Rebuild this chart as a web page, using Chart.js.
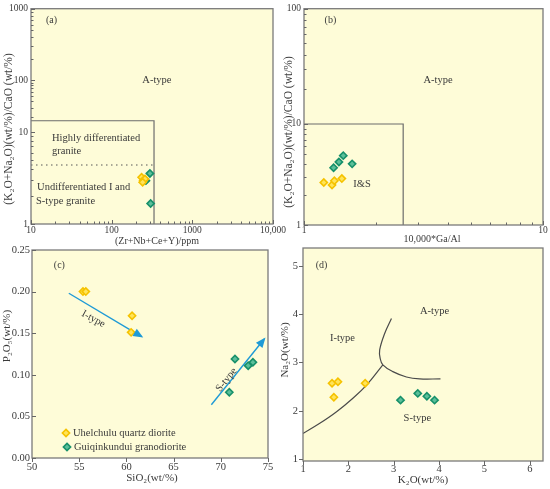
<!DOCTYPE html>
<html lang="en">
<head>
    <meta charset="UTF-8">
    <title>Granite type discrimination diagrams</title>
    <script src="https://cdn.jsdelivr.net/npm/chart.js"></script>
    <style>
        body { margin: 0; background: #fff; }
        .sheet { position: relative; width: 550px; height: 489px; }
        .sheet canvas { position: absolute; left: 0; top: 0; }
    </style>
</head>
<body>
    <div class="sheet">
        <canvas id="panelA" width="550" height="489"></canvas>
        <canvas id="panelB" width="550" height="489"></canvas>
        <canvas id="panelC" width="550" height="489"></canvas>
        <canvas id="panelD" width="550" height="489"></canvas>
    </div>

    <script>
        // (a) Zr+Nb+Ce+Y vs (K2O+Na2O)/CaO
        const aUhelX = [235, 246, 259, 242];
        const aUhelY = [3.23, 2.97, 3.10, 2.85];
        const aGuiqX = [298, 266, 304, 255];
        const aGuiqY = [3.56, 2.97, 1.67, 3.05];
        const aFieldX = [10, 335, 335];
        const aFieldY = [16.7, 16.7, 1];
        const aSplitX = [10, 335];
        const aSplitY = [4.4, 4.4];
        const aXTicks = [10, 100, 1000, 10000];
        const aXLabels = ['10', '100', '1000', '10,000'];
        const aYTicks = [1, 10, 100, 1000];

        // (b) 10000*Ga/Al vs (K2O+Na2O)/CaO
        const bUhelX = [1.21, 1.31, 1.34, 1.44];
        const bUhelY = [2.63, 2.49, 2.74, 2.88];
        const bGuiqX = [1.33, 1.40, 1.46, 1.59];
        const bGuiqY = [3.69, 4.21, 4.86, 4.03];
        const bFieldX = [1, 2.6, 2.6];
        const bFieldY = [10, 10, 1];
        const bXTicks = [1, 10];
        const bYTicks = [1, 10, 100];

        // (c) SiO2 vs P2O5
        const cUhelX = [55.4, 55.7, 60.6, 60.5];
        const cUhelY = [0.20, 0.20, 0.171, 0.151];
        const cGuiqX = [71.5, 72.9, 73.4, 70.9];
        const cGuiqY = [0.119, 0.111, 0.115, 0.079];
        const cITrendX = [53.9, 61.6];
        const cITrendY = [0.198, 0.146];
        const cSTrendX = [69.0, 74.6];
        const cSTrendY = [0.064, 0.143];
        const cXTicks = [50, 55, 60, 65, 70, 75];
        const cYTicks = [0, 0.05, 0.10, 0.15, 0.20, 0.25];

        // (d) K2O vs Na2O
        const dUhelX = [1.64, 1.77, 1.68, 2.37];
        const dUhelY = [2.57, 2.60, 2.28, 2.57];
        const dGuiqX = [3.15, 3.53, 3.73, 3.90];
        const dGuiqY = [2.22, 2.36, 2.30, 2.22];
        const dISLineX = [1.0, 1.37, 1.74, 2.10, 2.40, 2.76];
        const dISLineY = [1.53, 1.74, 1.98, 2.26, 2.53, 2.95];
        const dALineX = [2.95, 2.80, 2.69, 2.70, 2.76, 2.98, 3.28, 3.57, 4.03];
        const dALineY = [3.91, 3.60, 3.26, 3.09, 2.95, 2.81, 2.70, 2.66, 2.66];
        const dXTicks = [1, 2, 3, 4, 5, 6];
        const dYTicks = [1, 2, 3, 4, 5];

        const FONT = '"Liberation Serif", "DejaVu Serif", serif';
        const INK = '#3a3a3a';
        const PLOT_BG = '#FEFCD8';
        const FRAME = '#7a7a7a';
        const UHEL = { fill: '#FFE45A', edge: '#F5C200' };
        const GUIQ = { fill: '#5CBF9A', edge: '#17906A' };
        const PAGE_W = 550, PAGE_H = 489;

        // the log axes of (a) and (b) are not evenly spaced per decade in the original
        const BENDS = {
            aY: [[0, 0], [1, 0.426], [2, 0.667], [3, 1]],
            bY: [[0, 0], [1, 0.467], [2, 1]]
        };
        const LogScale = Chart.registry.getScale('logarithmic');
        class BentLogScale extends LogScale {
            getPixelForValue(value) {
                const pts = BENDS[this.options.bend];
                if (!pts || !(value > 0)) return super.getPixelForValue(value);
                const lv = Math.log10(value);
                let i = 0;
                while (i < pts.length - 2 && lv > pts[i + 1][0]) i++;
                const [l0, f0] = pts[i], [l1, f1] = pts[i + 1];
                return this.getPixelForDecimal(f0 + (lv - l0) / (l1 - l0) * (f1 - f0));
            }
            getValueForPixel(pixel) {
                const pts = BENDS[this.options.bend];
                if (!pts) return super.getValueForPixel(pixel);
                const f = this.getDecimalForPixel(pixel);
                let i = 0;
                while (i < pts.length - 2 && f > pts[i + 1][1]) i++;
                const [l0, f0] = pts[i], [l1, f1] = pts[i + 1];
                return Math.pow(10, l0 + (f - f0) / (f1 - f0) * (l1 - l0));
            }
        }
        BentLogScale.id = 'bentlog';
        BentLogScale.defaults = LogScale.defaults;
        Chart.register(BentLogScale);

        function pts(xs, ys) {
            return xs.map((x, i) => ({ x, y: ys[i] }));
        }

        function marks(label, xs, ys, c, order) {
            return {
                label, data: pts(xs, ys), order,
                pointStyle: 'rectRot', pointRadius: 3.6, pointBorderWidth: 1.6,
                backgroundColor: c.fill, borderColor: c.edge
            };
        }

        function curve(xs, ys, color, width, extra) {
            return Object.assign({
                data: pts(xs, ys), showLine: true, pointRadius: 0, order: 5,
                borderColor: color, borderWidth: width, fill: false
            }, extra);
        }

        function tickValues(type, min, max, majors) {
            if (type === 'linear') return majors.slice();
            const out = majors.slice();
            for (let d = Math.floor(Math.log10(min)); d < Math.log10(max); d++) {
                for (let k = 2; k <= 9; k++) {
                    const v = k * Math.pow(10, d);
                    if (v > min && v < max) out.push(v);
                }
            }
            return out.sort((p, q) => p - q);
        }

        function axis(type, min, max, majors, labels, size, pad, extra) {
            return Object.assign({
                type, min, max,
                grid: { display: false, drawTicks: false },
                border: { display: false },
                afterBuildTicks: s => { s.ticks = tickValues(type, min, max, majors).map(value => ({ value })); },
                ticks: {
                    autoSkip: false, maxRotation: 0, minRotation: 0, padding: pad, color: INK,
                    font: { family: FONT, size },
                    callback: v => {
                        const k = majors.findIndex(m => Math.abs(m - v) < 1e-9 * Math.max(1, Math.abs(v)));
                        return k < 0 ? '' : labels[k];
                    }
                }
            }, extra);
        }

        function diamond(ctx, x, y, r, c) {
            ctx.beginPath();
            ctx.moveTo(x, y - r); ctx.lineTo(x + r, y); ctx.lineTo(x, y + r); ctx.lineTo(x - r, y);
            ctx.closePath();
            ctx.fillStyle = c.fill; ctx.fill();
            ctx.lineWidth = 1.6; ctx.strokeStyle = c.edge; ctx.stroke();
        }

        function text(ctx, t, x, y, size, rot, align) {
            ctx.save();
            ctx.translate(x, y);
            if (rot) ctx.rotate(rot * Math.PI / 180);
            ctx.font = size + 'px ' + FONT;
            ctx.fillStyle = INK;
            ctx.textAlign = align || 'center';
            ctx.textBaseline = 'middle';
            ctx.fillText(t, 0, 0);
            ctx.restore();
        }

        function decor(cfg) {
            return {
                id: 'decor',
                beforeDraw(chart) {
                    const a = chart.chartArea, ctx = chart.ctx;
                    ctx.save();
                    ctx.fillStyle = PLOT_BG;
                    ctx.fillRect(a.left, a.top, a.right - a.left, a.bottom - a.top);
                    ctx.restore();
                },
                afterDatasetsDraw(chart) {
                    const ctx = chart.ctx, xs = chart.scales.x, ys = chart.scales.y;
                    chart.data.datasets.forEach((ds, i) => {
                        if (!ds.arrow) return;
                        const el = chart.getDatasetMeta(i).data;
                        const p1 = el[el.length - 1], p0 = el[el.length - 2];
                        ctx.save();
                        ctx.translate(p1.x, p1.y);
                        ctx.rotate(Math.atan2(p1.y - p0.y, p1.x - p0.x));
                        ctx.beginPath();
                        ctx.moveTo(2, 0); ctx.lineTo(-8, -4.2); ctx.lineTo(-8, 4.2);
                        ctx.closePath();
                        ctx.fillStyle = ds.borderColor;
                        ctx.fill();
                        ctx.restore();
                    });
                    (cfg.notes || []).forEach(n => {
                        text(ctx, n.text, xs.getPixelForValue(n.x), ys.getPixelForValue(n.y), n.size || 10.5, n.rot, n.align);
                    });
                },
                afterDraw(chart) {
                    const ctx = chart.ctx, a = chart.chartArea;
                    ctx.save();
                    ctx.strokeStyle = FRAME;
                    ctx.lineWidth = 1.3;
                    ctx.strokeRect(a.left, a.top, a.right - a.left, a.bottom - a.top);
                    ctx.lineWidth = 1;
                    ctx.strokeStyle = '#666';
                    ctx.beginPath();
                    chart.scales.x.ticks.forEach(t => {
                        const len = t.label !== '' ? 4 : 2.5;
                        const px = Math.round(chart.scales.x.getPixelForValue(t.value)) + 0.5;
                        const dir = cfg.tickX === 'in' ? -1 : 1;
                        ctx.moveTo(px, a.bottom); ctx.lineTo(px, a.bottom + dir * len);
                    });
                    chart.scales.y.ticks.forEach(t => {
                        const len = t.label !== '' ? 4 : 2.5;
                        const py = Math.round(chart.scales.y.getPixelForValue(t.value)) + 0.5;
                        const dir = cfg.tickY === 'in' ? 1 : -1;
                        ctx.moveTo(a.left, py); ctx.lineTo(a.left + dir * len, py);
                    });
                    ctx.stroke();
                    ctx.restore();
                    (cfg.titles || []).forEach(t => text(ctx, t.text, t.x, t.y, t.size, t.rot));
                    (cfg.legend || []).forEach(l => {
                        diamond(ctx, l.x, l.y, 3.6, l.style);
                        text(ctx, l.text, l.x + 7, l.y, 10.5, 0, 'left');
                    });
                }
            };
        }

        function panel(canvasId, area, xAxis, yAxis, datasets, cfg) {
            const [L, T, R, B] = area;
            xAxis.afterFit = s => { s.height = PAGE_H - B; };
            yAxis.afterFit = s => { s.width = L; };
            return new Chart(document.getElementById(canvasId), {
                type: 'scatter',
                data: { datasets },
                options: {
                    responsive: false,
                    animation: false,
                    layout: { padding: { left: 0, top: T, right: PAGE_W - R, bottom: 0 } },
                    plugins: { legend: { display: false }, tooltip: { enabled: false } },
                    scales: { x: xAxis, y: yAxis }
                },
                plugins: [decor(cfg)]
            });
        }

        const YTITLE = '(K\u2082O+Na\u2082O)(wt/%)/CaO (wt/%)';

        panel('panelA', [31, 5, 273, 224],
            axis('logarithmic', 10, 10000, aXTicks, aXLabels, 9.5, 1),
            axis('bentlog', 1, 1000, aYTicks, aYTicks.map(String), 9.5, 3, { bend: 'aY' }),
            [
                marks('Uhelchulu quartz diorite', aUhelX, aUhelY, UHEL, 0),
                marks('Guiqinkundui granodiorite', aGuiqX, aGuiqY, GUIQ, 1),
                curve(aFieldX, aFieldY, '#6b6b6b', 1.2),
                curve(aSplitX, aSplitY, '#555', 1.2, { borderDash: [1.5, 3.5] })
            ],
            {
                tickX: 'in', tickY: 'in',
                notes: [
                    { text: '(a)', x: 18, y: 690, size: 10 },
                    { text: 'A-type', x: 364, y: 100 },
                    { text: 'Highly differentiated', x: 18.2, y: 8.6, align: 'left' },
                    { text: 'granite', x: 18.2, y: 6.2, align: 'left' },
                    { text: 'Undifferentiated I and', x: 11.9, y: 2.5, align: 'left' },
                    { text: 'S-type granite', x: 11.5, y: 1.77, align: 'left' }
                ],
                titles: [
                    { text: '(Zr+Nb+Ce+Y)/ppm', x: 157, y: 241, size: 10 },
                    { text: YTITLE, x: 9, y: 129, size: 11.5, rot: -90 }
                ]
            });

        panel('panelB', [304, 5, 543, 225],
            axis('logarithmic', 1, 10, bXTicks, bXTicks.map(String), 9.5, 0),
            axis('bentlog', 1, 100, bYTicks, bYTicks.map(String), 9.5, 3, { bend: 'bY' }),
            [
                marks('Uhelchulu quartz diorite', bUhelX, bUhelY, UHEL, 0),
                marks('Guiqinkundui granodiorite', bGuiqX, bGuiqY, GUIQ, 1),
                curve(bFieldX, bFieldY, '#6b6b6b', 1.2)
            ],
            {
                tickX: 'in', tickY: 'in',
                notes: [
                    { text: '(b)', x: 1.29, y: 79, size: 10 },
                    { text: 'A-type', x: 3.64, y: 24 },
                    { text: 'I&S', x: 1.75, y: 2.55 }
                ],
                titles: [
                    { text: '10,000*Ga/Al', x: 432, y: 239, size: 10 },
                    { text: YTITLE, x: 289, y: 132, size: 11.5, rot: -90 }
                ]
            });

        panel('panelC', [32, 250, 268, 458],
            axis('linear', 50, 75, cXTicks, cXTicks.map(String), 10.5, 2.5),
            axis('linear', 0, 0.25, cYTicks, cYTicks.map(v => v.toFixed(2)), 10.5, 2),
            [
                marks('Uhelchulu quartz diorite', cUhelX, cUhelY, UHEL, 0),
                marks('Guiqinkundui granodiorite', cGuiqX, cGuiqY, GUIQ, 1),
                curve(cITrendX, cITrendY, '#1E9AD6', 1.4, { arrow: true }),
                curve(cSTrendX, cSTrendY, '#1E9AD6', 1.4, { arrow: true })
            ],
            {
                tickX: 'out', tickY: 'in',
                notes: [
                    { text: '(c)', x: 52.9, y: 0.232, size: 10 },
                    { text: 'I-type', x: 56.5, y: 0.167, rot: 28 },
                    { text: 'S-type', x: 70.6, y: 0.094, rot: -51 }
                ],
                titles: [
                    { text: 'SiO\u2082(wt/%)', x: 152, y: 478, size: 11 },
                    { text: 'P\u2082O\u2085(wt/%)', x: 7, y: 336, size: 11, rot: -90 }
                ],
                legend: [
                    { text: 'Uhelchulu quartz diorite', x: 66, y: 433, style: UHEL },
                    { text: 'Guiqinkundui granodiorite', x: 67, y: 447, style: GUIQ }
                ]
            });

        panel('panelD', [303, 248, 543, 461],
            axis('linear', 1, 6.29, dXTicks, dXTicks.map(String), 10.5, 1.7),
            axis('linear', 0.96, 5.37, dYTicks, dYTicks.map(String), 10.5, 5),
            [
                marks('Uhelchulu quartz diorite', dUhelX, dUhelY, UHEL, 0),
                marks('Guiqinkundui granodiorite', dGuiqX, dGuiqY, GUIQ, 1),
                curve(dISLineX, dISLineY, '#4a4a4a', 1.2, { tension: 0.4 }),
                curve(dALineX, dALineY, '#4a4a4a', 1.2, { tension: 0.4 })
            ],
            {
                tickX: 'out', tickY: 'out',
                notes: [
                    { text: '(d)', x: 1.41, y: 5.02, size: 10 },
                    { text: 'A-type', x: 3.9, y: 4.07 },
                    { text: 'I-type', x: 1.87, y: 3.5 },
                    { text: 'S-type', x: 3.52, y: 1.84 }
                ],
                titles: [
                    { text: 'K\u2082O(wt/%)', x: 423, y: 480, size: 11 },
                    { text: 'Na\u2082O(wt/%)', x: 285, y: 350, size: 11, rot: -90 }
                ]
            });
    </script>
</body>
</html>
